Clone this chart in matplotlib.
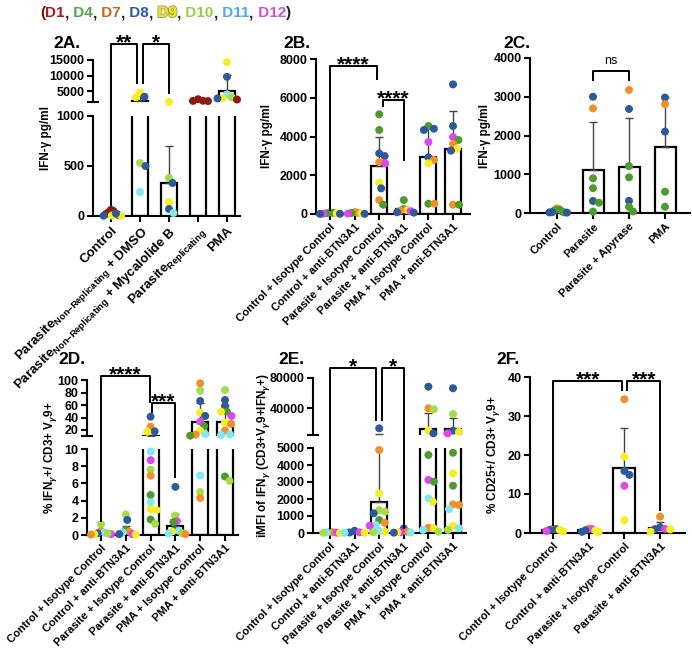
import numpy as np
import matplotlib
matplotlib.use("Agg")
import matplotlib.pyplot as plt
import matplotlib.patheffects as pe
from matplotlib.lines import Line2D

plt.rcParams["font.family"] = ["Liberation Sans", "DejaVu Sans"]
plt.rcParams["font.weight"] = "bold"
plt.rcParams["mathtext.fontset"] = "custom"
plt.rcParams["mathtext.rm"] = "Liberation Sans"
plt.rcParams["mathtext.it"] = "Liberation Sans:italic"
plt.rcParams["mathtext.bf"] = "Liberation Sans:bold"

W, H = 692, 660
nan = np.nan

donor_colors = {
    "D1": "#8E1B12", "D4": "#4E9A2E", "D7": "#F0902A", "D8": "#2D5A9A",
    "D9": "#F5EE22", "D10": "#A6DC4A", "D11": "#80E8F2", "D12": "#E046EE",
}
legend_colors = {
    "D1": "#B0181C", "D4": "#4CA64C", "D7": "#C8651E", "D8": "#2F56A6",
    "D9": "#F2E600", "D10": "#9ACD45", "D11": "#4DA8F0", "D12": "#D050D8",
}

# ---- 2A
a_cats = ["Control",
          r"Parasite$_{\mathrm{Non{-}Replicating}}$ + DMSO",
          r"Parasite$_{\mathrm{Non{-}Replicating}}$ + Mycalolide B",
          r"Parasite$_{\mathrm{Replicating}}$",
          "PMA"]
a_bars = [30, 1900, 330, 1900, 5100]
a_errs = [nan, 3500, 700, nan, 10200]
a_vals = [
    [62, 50, 38, 22, 10, 4, 2, 25, 3],
    [4500, 3200, 3000, 530, 500, 240],
    [1550, 380, 330, 140, 70, 30],
    [2400, 1900, 1850, 1800],
    [14300, 9600, 3900, 3000, 2700, 2650, 2300],
]
a_donors = [
    ["D1", "D1", "D1", "D1", "D1", "D9", "D9", "D8", "D8"],
    ["D9", "D8", "D9", "D10", "D8", "D11"],
    ["D9", "D10", "D8", "D9", "D8", "D11"],
    ["D1", "D1", "D1", "D1"],
    ["D9", "D8", "D11", "D10", "D9", "D8", "D1"],
]
a_brackets = [(0, 1, 20140, 110, 7600, "**", 0, -3), (1, 2, 20140, 7600, 4400, "*", 3, 0)]

# ---- 2B
btn_cats = ["Control + Isotype Control", "Control + anti-BTN3A1",
            "Parasite + Isotype Control", "Parasite + anti-BTN3A1",
            "PMA + Isotype Control", "PMA + anti-BTN3A1"]
b_bars = [50, 55, 2500, 250, 2950, 3350]
b_errs = [nan, nan, 4000, 420, 4450, 5300]
b_vals = [
    [90, 60, 40, 30, 20, 10, 5],
    [100, 60, 50, 30, 20, 10],
    [5145, 4335, 3130, 2990, 2680, 2615, 1620, 1325, 720, 480],
    [720, 250, 200, 180, 140, 90, 70],
    [4540, 4400, 4335, 3715, 2925, 2790, 2615, 530, 530],
    [6690, 4540, 3975, 3820, 3610, 3370, 3270, 480, 480],
]
b_donors = [
    ["D7", "D4", "D4", "D9", "D12", "D8", "D8"],
    ["D7", "D7", "D4", "D9", "D12", "D8"],
    ["D4", "D4", "D8", "D8", "D7", "D12", "D9", "D8", "D7", "D4"],
    ["D4", "D4", "D9", "D7", "D12", "D8", "D8"],
    ["D4", "D8", "D8", "D12", "D8", "D7", "D9", "D4", "D7"],
    ["D8", "D8", "D12", "D4", "D7", "D9", "D8", "D7", "D4"],
]
b_brackets = [(0, 2, 7640, 200, 6970, "****", 0, -2), (2, 3, 5880, 5570, 2800, "****", 4, 0)]

# ---- 2C
c_cats = ["Control", "Parasite", "Parasite + Apyrase", "PMA"]
c_bars = [40, 1110, 1195, 1695]
c_errs = [nan, 2355, 2460, 3000]
c_vals = [
    [120, 90, 70, 40, 15, 20, 15, 10],
    [3000, 2700, 895, 640, 310, 265, 35],
    [3175, 2685, 1210, 920, 315, 160, 40],
    [2980, 2810, 2100, 550, 160],
]
c_donors = [
    ["D7", "D4", "D4", "D4", "D4", "D8", "D8", "D8"],
    ["D8", "D7", "D4", "D4", "D8", "D4", "D4"],
    ["D7", "D8", "D4", "D4", "D8", "D4", "D4"],
    ["D8", "D7", "D8", "D4", "D4"],
]
c_brackets = [(1, 2, 3665, 3430, 3430, "ns", 0, 0)]

# ---- 2D
d_bars = [0.3, 0.4, 11, 1.0, 33, 33]
d_errs = [0.6, 1.1, 12, 2.5, 63, 60]
d_vals = [
    [1.25, 0.45, 0.3, 0.2, 0.1, 0.1, 0.05, 0.2],
    [2.4, 1.75, 0.6, 0.4, 0.3, 0.1, 0.05, 0.1],
    [41.3, 25.3, 17.9, 17.3, 9.7, 8.7, 7.6, 6.9, 4.65, 3.8, 3.0, 2.9, 1.8, 1.3],
    [5.6, 2.25, 1.6, 1.5, 0.6, 0.5, 0.4, 0.2, 0.2, 0.1],
    [94.7, 82.9, 66.4, 47.7, 42.4, 33.3, 26.4, 18.9, 13.6, 12.6, 10.9, 6.9, 5.0, 4.3],
    [84, 68, 58.4, 49.3, 49.3, 42.4, 31.7, 29.6, 19.2, 13, 12, 6.8, 6.3],
]
d_donors = [
    ["D10", "D7", "D11", "D8", "D9", "D12", "D7", "D10"],
    ["D10", "D8", "D4", "D7", "D11", "D12", "D9", "D8"],
    ["D8", "D7", "D8", "D9", "D11", "D12", "D10", "D7", "D4", "D11", "D9", "D9", "D4", "D10"],
    ["D8", "D10", "D12", "D4", "D8", "D11", "D9", "D10", "D11", "D7"],
    ["D7", "D10", "D8", "D9", "D8", "D12", "D4", "D9", "D11", "D7", "D4", "D11", "D10", "D7"],
    ["D10", "D8", "D8", "D4", "D9", "D12", "D9", "D7", "D7", "D11", "D11", "D4", "D10"],
]
d_brackets = [(0, 2, 106.4, 1.6, 64.8, "****", 0, -1), (2, 3, 63, 49, 6.8, "***", 1, 0)]

# ---- 2E
e_bars = [20, 30, 1850, 60, 12900, 12900]
e_errs = [nan, nan, 6300, nan, 34000, 27800]
e_vals = [
    [60, 40, 30, 20, 10, 5],
    [130, 40, 30, 20, 10],
    [13800, 4880, 2330, 1350, 1250, 1160, 760, 600, 470, 430, 120, 80, 40],
    [270, 80, 50, 40, 30, 20],
    [68600, 40100, 38800, 10700, 7200, 4590, 3120, 3020, 2040, 1840, 310, 280, 180, 80],
    [66500, 32600, 10700, 9300, 7200, 4720, 3510, 2780, 1680, 1650, 1410, 410, 280, 180],
]
e_donors = [
    ["D4", "D7", "D11", "D12", "D10", "D9"],
    ["D8", "D12", "D8", "D9", "D11"],
    ["D8", "D7", "D9", "D10", "D10", "D8", "D4", "D7", "D11", "D12", "D11", "D9", "D10"],
    ["D8", "D7", "D12", "D9", "D11", "D8"],
    ["D8", "D7", "D10", "D9", "D8", "D4", "D12", "D4", "D11", "D9", "D7", "D9", "D11", "D10"],
    ["D8", "D10", "D8", "D9", "D12", "D4", "D9", "D4", "D7", "D7", "D11", "D9", "D11", "D10"],
]
e_brackets = [(0, 2, 93200, 300, 24700, "*", 0, -3), (2, 3, 93200, 24700, 300, "*", 3, 0)]

# ---- 2F
f_cats = btn_cats[:4]
f_bars = [0.8, 0.7, 16.7, 1.3]
f_errs = [nan, nan, 26.9, 2.9]
f_vals = [
    [1.1, 1.0, 0.8, 0.8, 0.5, 0.4],
    [1.1, 1.0, 0.7, 0.6, 0.3, 0.2],
    [34.3, 19.6, 15.9, 14.9, 12.1, 3.25],
    [4.2, 1.45, 1.05, 1.0, 0.9, 0.35],
]
f_donors = [
    ["D7", "D8", "D8", "D9", "D12", "D9"],
    ["D7", "D12", "D8", "D9", "D8", "D9"],
    ["D7", "D9", "D8", "D8", "D12", "D9"],
    ["D7", "D8", "D12", "D8", "D9", "D9"],
]
f_brackets = [(0, 2, 39, 2.0, 36.7, "***", 0, -2), (2, 3, 39, 36.7, 5.9, "***", 3, 0)]


fig = plt.figure(figsize=(W / 100, H / 100), dpi=100)


def fx(x):
    return x / W


def fy(y):
    return 1 - y / H


def seg_for(segs, v):
    for k, s in enumerate(segs):
        if v >= s[2] or k == len(segs) - 1:
            return k
    return len(segs) - 1


def ypx(segs, v):
    top, bot, lo, hi, _ = segs[seg_for(segs, v)]
    return bot - (v - lo) / (hi - lo) * (bot - top)


def swarm(ys, d=6.0, limit=10.0):
    order = np.argsort(ys)
    xs = np.zeros(len(ys))
    placed = []
    for k in order:
        y = ys[k]
        for step in range(200):
            cands = [0.0] if step == 0 else [step * 0.5, -step * 0.5]
            ok = None
            for x in cands:
                if all((x - px) ** 2 + (y - py) ** 2 >= d * d for px, py in placed):
                    ok = x
                    break
            if ok is not None:
                break
        xs[k] = ok
        placed.append((ok, y))
    m = np.max(np.abs(xs)) if len(xs) else 0
    if m > limit:
        xs = xs * limit / m
    return xs


def panel(title, title_xy, ylabel, ylab_x, x0, x1, c0, step, bar_px, segs,
          cats, bars, errs, vals, donors, brackets, lab_size=8.0):
    n = len(cats)
    xs = np.arange(n)
    xlim = ((x0 - c0) / step, (x1 - c0) / step)
    bars = np.array(bars, float)
    errs = np.array(errs, float)
    axes = []
    for k, (top, bot, lo, hi, ticks) in enumerate(segs):
        ax = fig.add_axes([fx(x0), fy(bot), (x1 - x0) / W, (bot - top) / H])
        ax.set_xlim(*xlim)
        ax.set_ylim(lo, hi)
        ax.patch.set_alpha(0)
        ax.spines["top"].set_visible(False)
        ax.spines["right"].set_visible(False)
        ax.spines["left"].set_linewidth(1.5)
        ax.spines["bottom"].set_linewidth(1.5)
        ax.set_yticks(ticks)
        ax.set_yticklabels([f"{t:g}" for t in ticks], fontsize=9, fontweight="bold")
        ax.tick_params(axis="y", length=4, width=1.5, pad=2)
        if k == len(segs) - 1:
            ax.set_xticks(xs)
            ax.set_xticklabels(cats, rotation=45, ha="right", rotation_mode="anchor",
                               fontsize=lab_size, fontweight="bold")
            ax.tick_params(axis="x", length=4, width=1.5, pad=2)
        else:
            ax.spines["bottom"].set_visible(False)
            ax.set_xticks([])
            ax.set_yticks([lo], minor=True)
            ax.tick_params(axis="y", which="minor", direction="inout", length=9, width=1.5)
        ax.bar(xs, bars, width=bar_px / step, facecolor="white", edgecolor="black",
               linewidth=1.6, zorder=2)
        m = ~np.isnan(errs)
        ax.errorbar(xs[m], bars[m], yerr=[np.zeros(m.sum()), errs[m] - bars[m]], fmt="none",
                    ecolor="#444444", elinewidth=1, capsize=3, capthick=1, zorder=2.4)
        axes.append(ax)

    # points
    for i in range(n):
        v = np.array(vals[i], float)
        yp = np.array([ypx(segs, q) for q in v])
        off = swarm(yp)
        for q, o, dn in zip(v, off, donors[i]):
            ax = axes[seg_for(segs, q)]
            ax.scatter([i + o / step], [q], s=33, color=donor_colors[dn], edgecolors="none",
                       zorder=3, clip_on=False)

    # brackets
    for i, j, ytop, yl, yr, lab, dl, dr in brackets:
        xl = c0 + step * i + dl
        xr = c0 + step * j + dr
        yt = ypx(segs, ytop)
        fig.add_artist(Line2D([fx(xl), fx(xl), fx(xr), fx(xr)],
                              [fy(ypx(segs, yl)), fy(yt), fy(yt), fy(ypx(segs, yr))],
                              color="black", linewidth=1.4))
        if lab == "ns":
            fig.text(fx((xl + xr) / 2), fy(yt - 7), lab, fontsize=9, fontweight="normal",
                     ha="center", va="baseline")
        else:
            fig.text(fx((xl + xr) / 2), fy(yt + 4), lab, fontsize=15, fontweight="bold",
                     ha="center", va="baseline")

    fig.text(fx(title_xy[0]), fy(title_xy[1]), title, fontsize=12.5, fontweight="bold",
             ha="left", va="center")
    ycen = (segs[0][0] + segs[-1][1]) / 2
    fig.text(fx(ylab_x), fy(ycen), ylabel, fontsize=8.5, fontweight="bold", rotation=90,
             ha="center", va="center")
    return axes


panel("2A.", (53, 44), "IFN-γ pg/ml", 46, 93, 240, 111, 29, 16,
      [(60, 102, 1500, 15000, [5000, 10000, 15000]), (116, 216, 0, 1000, [0, 500, 1000])],
      a_cats, a_bars, a_errs, a_vals, a_donors, a_brackets, lab_size=9.5)

panel("2B.", (283, 44), "IFN-γ pg/ml", 267, 316, 470, 330, 24.6, 16,
      [(59, 214, 0, 8000, [0, 2000, 4000, 6000, 8000])],
      btn_cats, b_bars, b_errs, b_vals, b_donors, b_brackets)

panel("2C.", (503, 44), "IFN-γ pg/ml", 485, 530, 690, 557, 36, 21,
      [(58, 213, 0, 4000, [0, 1000, 2000, 3000, 4000])],
      c_cats, c_bars, c_errs, c_vals, c_donors, c_brackets)

panel("2D.", (58, 359), r"% IFN$_{\gamma}$+/ CD3+ V$_{\gamma}$9+", 50, 87, 238, 101, 24.8, 16,
      [(380, 436, 10.4, 100, [20, 40, 60, 80, 100]), (449, 535, 0, 10, [0, 2, 4, 6, 8, 10])],
      btn_cats, d_bars, d_errs, d_vals, d_donors, d_brackets)

panel("2E.", (278, 359), r"iMFI of IFN$_{\gamma}$ (CD3+V$_{\gamma}$9+IFN$_{\gamma}$+)", 263,
      313, 466, 330, 24.6, 16,
      [(378, 435, 5000, 80000, [40000, 80000]),
       (448, 533, 0, 5000, [0, 1000, 2000, 3000, 4000, 5000])],
      btn_cats, e_bars, e_errs, e_vals, e_donors, e_brackets)

panel("2F.", (496, 359), r"% CD25+/ CD3+ V$_{\gamma}$9+", 493, 530, 685, 553, 35.7, 22,
      [(377, 533, 0, 40, [0, 10, 20, 30, 40])],
      f_cats, f_bars, f_errs, f_vals, f_donors, f_brackets)

# donor legend
donor_order = ["D1", "D4", "D7", "D8", "D9", "D10", "D11", "D12"]
pieces = [("(", "#7A1010")]
for k, dn in enumerate(donor_order):
    pieces.append((("" if k == 0 else " ") + dn, legend_colors[dn]))
    pieces.append(("," if k < len(donor_order) - 1 else ")", "#222222"))
renderer = fig.canvas.get_renderer()
prefix = ""
lx = 40
for txt, col in pieces:
    if prefix:
        t0 = fig.text(0, 0, prefix, fontsize=11, fontweight="bold")
        wpx = t0.get_window_extent(renderer).width
        t0.remove()
    else:
        wpx = 0
    t = fig.text(fx(lx + wpx), fy(13), txt, fontsize=11, fontweight="bold", color=col,
                 ha="left", va="center")
    if col == legend_colors["D9"]:
        t.set_path_effects([pe.withStroke(linewidth=1.5, foreground="#9A9A9A"), pe.Normal()])
    prefix += txt

fig.savefig("out.png", dpi=100)
